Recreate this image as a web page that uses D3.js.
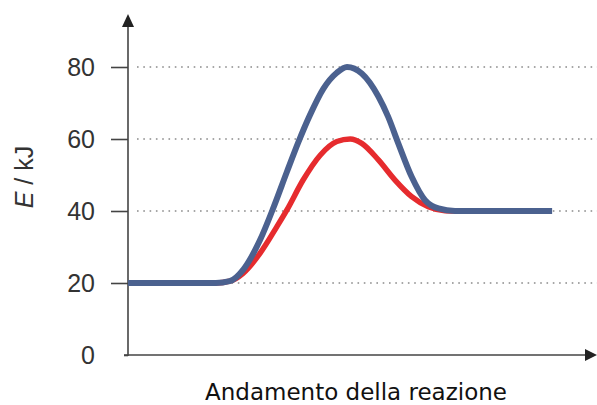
<!DOCTYPE html>
<html><head><meta charset="utf-8">
<script src="https://cdn.jsdelivr.net/npm/d3@7"></script>
<style>html,body{margin:0;padding:0;background:#fff;overflow:hidden}</style>
</head><body>
<script>
// Data (reaction progress in arbitrary units 0-100, energy in kJ)
const yTicks = [0, 20, 40, 60, 80];
const gridValues = [20, 40, 60, 80];
const blueX = [0, 19, 22, 25, 28.6, 31.5, 34.4, 36.9, 39.4, 42.3, 45.2, 47.4, 50.6, 54.2, 56.3, 58.5, 61.4, 64.3, 67.2, 70.8, 91.8];
const blueE = [20, 20, 20.5, 23.8, 32, 41, 50.9, 59.2, 66.7, 74, 78.4, 80, 78.2, 71.8, 66.2, 58.8, 49.5, 43, 40.7, 40, 40];
const redX = [0, 19, 22, 24.9, 28.6, 32.2, 34.4, 37.9, 41.6, 45.2, 48.1, 50.6, 54.2, 57.8, 61.4, 65, 68.6, 72];
const redE = [20, 20, 20.5, 22.7, 28.3, 35.6, 40.3, 48.6, 55.5, 59.3, 60, 58.8, 54.2, 48.6, 44, 41.2, 40.1, 40];
const yLabel = "E";
const yUnit = " / kJ";
const xLabel = "Andamento della reazione";

const W = 597, H = 405;
const svg = d3.select("body").append("svg").attr("width", W).attr("height", H);

const x = d3.scaleLinear().domain([0, 100]).range([128, 590]);
const y = d3.scaleLinear().domain([0, 80]).range([355, 67]);

// grid
svg.append("g").selectAll("line").data(gridValues).join("line")
  .attr("x1", 137).attr("x2", W)
  .attr("y1", d => y(d)).attr("y2", d => y(d))
  .attr("stroke", "#8a8a8a").attr("stroke-width", 1.6)
  .attr("stroke-dasharray", "1.6,4.7");

// y axis with ticks
const yAxis = d3.axisLeft(y).tickValues(yTicks).tickSize(17).tickPadding(16);
const ga = svg.append("g").attr("transform", `translate(${x(0)},0)`).call(yAxis);
ga.select(".domain").remove();
ga.selectAll(".tick line").attr("stroke", "#444").attr("stroke-width", 1.6)
  .attr("x2", d => d === 0 ? -4 : -17);
ga.selectAll(".tick text").attr("font-family", "Liberation Sans, Arial, sans-serif")
  .attr("font-size", 25).attr("fill", "#333").attr("x", -33).attr("dy", "0.35em");

// axes lines with arrows
svg.append("line").attr("x1", x(0)).attr("x2", x(0)).attr("y1", 356).attr("y2", 24)
  .attr("stroke", "#444").attr("stroke-width", 1.6);
svg.append("path").attr("d", `M${x(0)},14 L${x(0)-6},27 L${x(0)+6},27 Z`).attr("fill", "#222");
svg.append("line").attr("x1", 124).attr("x2", 588).attr("y1", y(0)).attr("y2", y(0))
  .attr("stroke", "#444").attr("stroke-width", 1.6);
svg.append("path").attr("d", `M597,${y(0)} L585,${y(0)-6} L585,${y(0)+6} Z`).attr("fill", "#222");

// curves
const line = d3.line().x(d => x(d[0])).y(d => y(d[1])).curve(d3.curveMonotoneX);
svg.append("path").datum(d3.zip(redX, redE)).attr("d", line)
  .attr("fill", "none").attr("stroke", "#e62b2e").attr("stroke-width", 5.5);
svg.append("path").datum(d3.zip(blueX, blueE)).attr("d", line)
  .attr("fill", "none").attr("stroke", "#4b618f").attr("stroke-width", 6);

// labels
const yl = svg.append("text").attr("transform", "translate(33,177) rotate(-90)")
  .attr("text-anchor", "middle").attr("font-family", "Liberation Sans, Arial, sans-serif")
  .attr("font-size", 25).attr("fill", "#333");
yl.append("tspan").attr("font-style", "italic").text(yLabel);
yl.append("tspan").text(yUnit);

svg.append("text").attr("x", 356).attr("y", 400).attr("text-anchor", "middle")
  .attr("font-family", "DejaVu Sans, Verdana, sans-serif").attr("font-size", 23)
  .attr("fill", "#111").text(xLabel);
</script>
</body></html>
